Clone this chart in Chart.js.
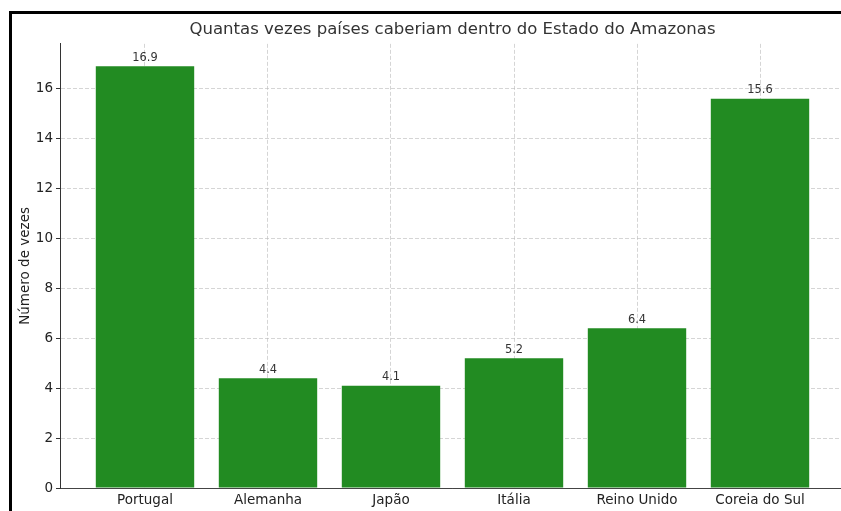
<!DOCTYPE html>
<html lang="pt">
<head>
<meta charset="utf-8">
<title>Quantas vezes países caberiam dentro do Estado do Amazonas</title>
<script src="https://cdn.jsdelivr.net/npm/chart.js@4.4.1/dist/chart.umd.min.js"></script>
<style>
  html, body {
    margin: 0;
    padding: 0;
    width: 841px;
    height: 511px;
    overflow: hidden;
    background: #fff;
  }
  .chart-wrap {
    position: absolute;
    left: 0;
    top: 0;
    width: 860px;
    height: 520px;
  }
  .frame-top, .frame-left {
    position: absolute;
    background: #000;
  }
  .frame-top { left: 9px; top: 11px; width: 832px; height: 3px; }
  .frame-left { left: 9px; top: 11px; width: 3px; height: 500px; }
</style>
</head>
<body>
<div class="chart-wrap"><canvas class="area-chart"></canvas></div>
<div class="frame-top"></div>
<div class="frame-left"></div>
<script>
// Countries compared against the area of Amazonas
const countries = ['Portugal', 'Alemanha', 'Japão', 'Itália', 'Reino Unido', 'Coreia do Sul'];
// How many times each country fits inside the state
const timesFit = [16.9, 4.4, 4.1, 5.2, 6.4, 15.6];
// Y axis ticks
const yTicks = [0, 2, 4, 6, 8, 10, 12, 14, 16];

const FONT = "'DejaVu Sans', 'Liberation Sans', sans-serif";
const BAR_GREEN = '#228B22';
const GRID = 'rgba(185, 185, 185, 0.75)';

/**
 * Writes the value above every bar
 */
const valueLabels = {
  id: 'valueLabels',
  afterDraw(chart) {
    const { ctx } = chart;
    const meta = chart.getDatasetMeta(0);
    ctx.save();
    ctx.font = `11.4px ${FONT}`;
    ctx.fillStyle = '#333';
    ctx.textAlign = 'center';
    ctx.textBaseline = 'alphabetic';
    meta.data.forEach((bar, i) => {
      ctx.fillText(timesFit[i].toFixed(1), bar.x, bar.y - 5.5);
    });
    ctx.restore();
  },
};

/**
 * Creates the bar chart
 * @returns {Chart}
 */
function createAreaChart() {
  const canvas = document.getElementsByClassName('area-chart')[0];
  canvas.width = 860;
  canvas.height = 520;

  return new Chart(canvas.getContext('2d'), {
    type: 'bar',
    data: {
      datasets: [{
        data: timesFit.map((v, i) => ({ x: i, y: v })),
        backgroundColor: BAR_GREEN,
        borderWidth: 0,
        barPercentage: 0.8,
        categoryPercentage: 1,
      }],
    },
    options: {
      responsive: false,
      animation: false,
      layout: { padding: { left: 0, right: 15, top: 0, bottom: 0 } },
      plugins: {
        legend: { display: false },
        tooltip: { enabled: false },
        title: {
          display: true,
          // only as wide as the plot area, so the text sits centred over it
          fullSize: false,
          text: 'Quantas vezes países caberiam dentro do Estado do Amazonas',
          color: '#333',
          font: { family: FONT, size: 16.55, weight: 'normal' },
          padding: { top: 20, bottom: 4 },
        },
      },
      scales: {
        x: {
          type: 'linear',
          min: -0.691,
          max: 5.691,
          offset: false,
          z: 1,
          afterFit(scale) { scale.height = 32; },
          afterBuildTicks(scale) {
            scale.ticks = countries.map((c, i) => ({ value: i }));
          },
          ticks: {
            color: '#222',
            font: { family: FONT, size: 13.5 },
            padding: 4,
            maxRotation: 0,
            autoSkip: false,
            callback: (value) => countries[value],
          },
          grid: { color: GRID, lineWidth: 0.8, drawTicks: false, offset: false },
          border: { display: true, color: '#444', width: 1, dash: [4, 2] },
        },
        y: {
          min: 0,
          max: 17.8,
          z: 1,
          afterFit(scale) { scale.width = 60; },
          afterBuildTicks(scale) {
            scale.ticks = yTicks.map((v) => ({ value: v }));
          },
          ticks: {
            color: '#222',
            font: { family: FONT, size: 13.5 },
            padding: 3,
          },
          grid: {
            color: GRID,
            lineWidth: 0.8,
            tickLength: 4,
            tickColor: '#333',
            tickWidth: 1,
          },
          border: { display: true, color: '#333', width: 1, dash: [4, 2] },
          title: {
            display: true,
            text: 'Número de vezes',
            color: '#222',
            font: { family: FONT, size: 13.5 },
            padding: { top: 17, bottom: 0 },
          },
        },
      },
    },
    plugins: [valueLabels],
  });
}

document.addEventListener('DOMContentLoaded', () => {
  createAreaChart();
});
</script>
</body>
</html>
